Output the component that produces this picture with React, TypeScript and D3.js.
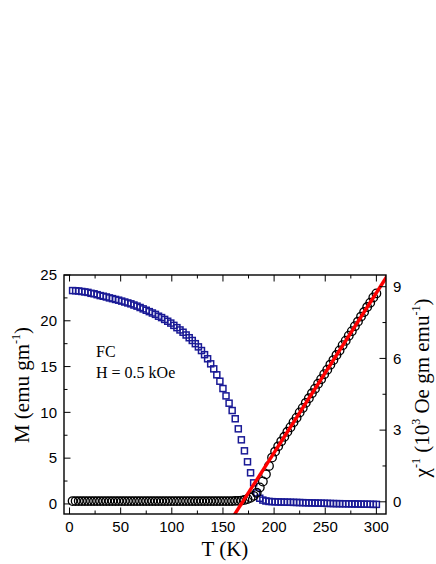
import React from "react";
import * as d3 from "d3";

// temperature grid (K)
const temps = [
  3, 6, 9, 12, 15, 18, 21, 24, 27, 30, 33, 36, 39, 42, 45, 48, 51, 54, 57, 60,
  63, 66, 69, 72, 75, 78, 81, 84, 87, 90, 93, 96, 99, 102, 105, 108, 111, 114, 117, 120,
  123, 126, 129, 132, 135, 138, 141, 144, 147, 150, 153, 156, 159, 162, 165, 168, 171, 174, 177, 180,
  183, 186, 189, 192, 195, 198, 201, 204, 207, 210, 213, 216, 219, 222, 225, 228, 231, 234, 237, 240,
  243, 246, 249, 252, 255, 258, 261, 264, 267, 270, 273, 276, 279, 282, 285, 288, 291, 294, 297, 300,
];

// M (emu/gm), FC, H = 0.5 kOe
const magnetization = [
  23.3, 23.28, 23.25, 23.2, 23.15, 23.1, 23.0, 22.95, 22.85, 22.75, 22.68, 22.6, 22.5, 22.42, 22.33, 22.25, 22.15, 22.05, 21.95, 21.85,
  21.72, 21.6, 21.45, 21.3, 21.15, 21.0, 20.85, 20.7, 20.5, 20.35, 20.15, 19.95, 19.75, 19.5, 19.25, 19.0, 18.75, 18.45, 18.15, 17.85,
  17.5, 17.15, 16.75, 16.3, 15.85, 15.3, 14.75, 14.1, 13.4, 12.6, 11.8, 11.0, 10.2, 9.3, 8.2, 7.0, 5.8, 4.6, 3.4, 2.3,
  1.2, 0.62, 0.42, 0.32, 0.27, 0.25, 0.23, 0.22, 0.21, 0.2, 0.19, 0.18, 0.17, 0.16, 0.15, 0.14, 0.13, 0.12, 0.11, 0.1,
  0.09, 0.08, 0.07, 0.06, 0.05, 0.04, 0.03, 0.03, 0.02, 0.02, 0.01, 0.0, 0.0, -0.01, -0.02, -0.03, -0.03, -0.04, -0.05, -0.05,
];

// inverse susceptibility (10^3 Oe gm/emu)
const invChi = [
  0.03, 0.03, 0.03, 0.03, 0.03, 0.03, 0.03, 0.03, 0.03, 0.03, 0.03, 0.03, 0.03, 0.03, 0.03, 0.03, 0.03, 0.03, 0.03, 0.03,
  0.03, 0.03, 0.03, 0.03, 0.03, 0.03, 0.03, 0.03, 0.03, 0.03, 0.03, 0.03, 0.03, 0.03, 0.03, 0.03, 0.03, 0.03, 0.03, 0.03,
  0.03, 0.03, 0.03, 0.03, 0.03, 0.03, 0.03, 0.03, 0.03, 0.03, 0.03, 0.03, 0.03, 0.04, 0.04, 0.05, 0.08, 0.12, 0.17, 0.25,
  0.38, 0.6, 0.85, 1.15, 1.5, 1.85, 2.1, 2.32, 2.53, 2.72, 2.93, 3.12, 3.33, 3.52, 3.74, 3.93, 4.14, 4.33, 4.54, 4.73,
  4.94, 5.13, 5.34, 5.53, 5.74, 5.93, 6.14, 6.33, 6.55, 6.74, 6.95, 7.14, 7.35, 7.54, 7.75, 7.94, 8.15, 8.33, 8.55, 8.72,
];

// Curie-Weiss fit line end points
const fitT = [160, 312];
const fitChi = [-0.62, 9.55];

const xTicks = [0, 50, 100, 150, 200, 250, 300];
const mTicks = [0, 5, 10, 15, 20, 25];
const chiTicks = [0, 3, 6, 9];

const L = 64, R = 386, T0 = 275, B = 514;
const blue = "#1a1a96";

export default function App() {
  const x = d3.scaleLinear().domain([-5.4, 309.4]).range([L, R]);
  const yM = d3.scaleLinear().domain([-1.1, 25]).range([B, T0]);
  const yC = d3.scaleLinear().domain([-0.51, 9.49]).range([B, T0]);

  const xMinor = d3.range(0, 301, 25);
  const mMinor = d3.range(0, 25.1, 2.5);
  const cMinor = d3.range(0, 9.1, 1.5);

  const fitLine = d3
    .line<number>()
    .x((d, i) => x(fitT[i]))
    .y((d) => yC(d));

  const sans = "'Liberation Sans', Arial, sans-serif";
  const serif = "'Liberation Serif', 'Times New Roman', serif";

  return (
    <svg width={436} height={564} style={{ position: "absolute", left: 0, top: 0, background: "#fff" }}>
      <defs>
        <clipPath id="plot">
          <rect x={L} y={T0} width={R - L} height={B - T0} />
        </clipPath>
      </defs>

      <g clipPath="url(#plot)">
        {temps.map((t, i) => (
          <rect key={`s${i}`} x={x(t) - 3} y={yM(magnetization[i]) - 3} width={6} height={6}
            fill="none" stroke={blue} strokeWidth={1.5} />
        ))}
        {temps.map((t, i) => (
          <circle key={`c${i}`} cx={x(t)} cy={yC(invChi[i])} r={4.3} fill="none" stroke="#000" strokeWidth={1.3} />
        ))}
        <path d={fitLine(fitChi) || ""} stroke="#ff0000" strokeWidth={3.4} fill="none" />
      </g>

      {/* ticks */}
      <g stroke="#000" strokeWidth={1}>
        {xMinor.map((t) => {
          const len = t % 50 === 0 ? 6.5 : 3.5;
          return (
            <g key={`xt${t}`}>
              <line x1={x(t)} x2={x(t)} y1={B} y2={B - len} />
              <line x1={x(t)} x2={x(t)} y1={T0} y2={T0 + len} />
            </g>
          );
        })}
        {mMinor.map((v) => {
          const len = v % 5 === 0 ? 6.5 : 3.5;
          return <line key={`mt${v}`} x1={L} x2={L + len} y1={yM(v)} y2={yM(v)} />;
        })}
        {cMinor.map((v) => {
          const len = v % 3 === 0 ? 6.5 : 3.5;
          return <line key={`ct${v}`} x1={R} x2={R - len} y1={yC(v)} y2={yC(v)} />;
        })}
      </g>

      <rect x={L} y={T0} width={R - L} height={B - T0} fill="none" stroke="#000" strokeWidth={1.4} />

      {/* tick labels */}
      <g fontFamily={sans} fontSize={15} fill="#000">
        {xTicks.map((t) => (
          <text key={`xl${t}`} x={x(t)} y={531.5} textAnchor="middle">{t}</text>
        ))}
        {mTicks.map((v) => (
          <text key={`ml${v}`} x={57} y={yM(v) + 5.3} textAnchor="end">{v}</text>
        ))}
        {chiTicks.map((v) => (
          <text key={`cl${v}`} x={393} y={yC(v) + 5.3} textAnchor="start">{v}</text>
        ))}
      </g>

      {/* axis titles */}
      <g fontFamily={serif} fill="#000">
        <text x={x(150) + 2} y={556} fontSize={21} textAnchor="middle">T (K)</text>
        <text transform="translate(29,385) rotate(-90)" fontSize={21} textAnchor="middle">
          M (emu gm<tspan fontSize={12} dy={-9}>-1</tspan><tspan dy={9}>)</tspan>
        </text>
        <text transform="translate(429,388) rotate(-90)" fontSize={21} textAnchor="middle">
          χ<tspan fontSize={12} dy={-9}>-1</tspan><tspan dy={9}> (10</tspan>
          <tspan fontSize={12} dy={-9}>3</tspan><tspan dy={9}> Oe gm emu</tspan>
          <tspan fontSize={12} dy={-9}>-1</tspan><tspan dy={9}>)</tspan>
        </text>
        <text x={96} y={356.5} fontSize={16}>FC</text>
        <text x={96} y={377.5} fontSize={16}>H = 0.5 kOe</text>
      </g>
    </svg>
  );
}
